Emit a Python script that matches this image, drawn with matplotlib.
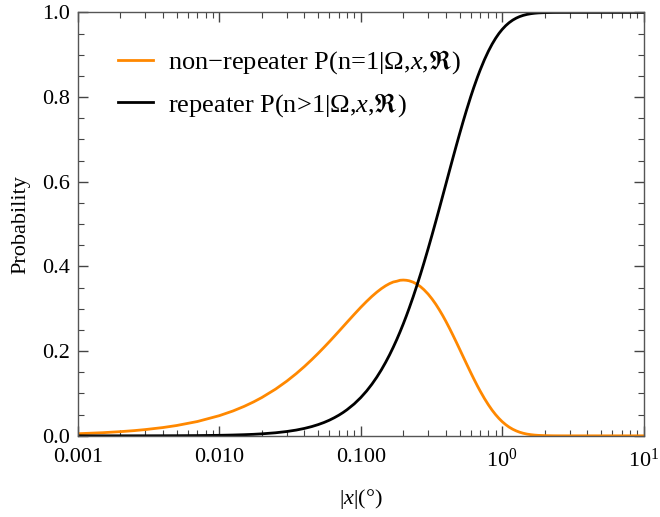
import matplotlib
matplotlib.use('Agg')
import matplotlib.pyplot as plt
from matplotlib.ticker import FixedLocator, LogLocator, MultipleLocator, NullFormatter

plt.rcParams['font.family'] = ['Liberation Serif', 'DejaVu Serif']
plt.rcParams['mathtext.fontset'] = 'custom'
plt.rcParams['mathtext.rm'] = 'Liberation Serif'
plt.rcParams['mathtext.it'] = 'Liberation Serif:italic'
plt.rcParams['mathtext.fallback'] = 'stix'

# |x| in degrees and the two probabilities
x_deg = [0.001, 0.0015, 0.002, 0.0025, 0.003, 0.004, 0.005, 0.007, 0.01, 0.0125,
         0.015, 0.0175, 0.02, 0.025, 0.03, 0.035, 0.04, 0.045, 0.05, 0.055,
         0.06, 0.065, 0.07, 0.075, 0.08, 0.09, 0.1, 0.11, 0.12, 0.13,
         0.14, 0.15, 0.16, 0.17, 0.18, 0.19, 0.2, 0.21, 0.22, 0.235,
         0.25, 0.265, 0.28, 0.3, 0.32, 0.34, 0.36, 0.38, 0.4, 0.425,
         0.45, 0.475, 0.5, 0.53, 0.56, 0.6, 0.63, 0.67, 0.7, 0.75,
         0.8, 0.85, 0.9, 0.95, 1.0, 1.06, 1.12, 1.19, 1.26, 1.33,
         1.41, 1.5, 1.6, 1.7, 1.8, 2.0, 2.3, 2.7, 3.5, 5.0, 10.0]
p_single = [0.0050, 0.0074, 0.0099, 0.0123, 0.0148, 0.0196, 0.0244, 0.0338, 0.0476, 0.0587,
            0.0696, 0.0802, 0.0905, 0.1103, 0.1291, 0.1469, 0.1637, 0.1797, 0.1947, 0.2089,
            0.2222, 0.2348, 0.2466, 0.2577, 0.2681, 0.2869, 0.3033, 0.3173, 0.3293, 0.3393,
            0.3476, 0.3543, 0.3595, 0.3633, 0.3651, 0.3674, 0.3679, 0.3674, 0.3662, 0.3629,
            0.3581, 0.3522, 0.3452, 0.3347, 0.3230, 0.3106, 0.2975, 0.2842, 0.2707, 0.2538,
            0.2371, 0.2209, 0.2052, 0.1872, 0.1703, 0.1494, 0.1350, 0.1175, 0.1057, 0.0882,
            0.0733, 0.0606, 0.0500, 0.0411, 0.0337, 0.0265, 0.0207, 0.0155, 0.0116, 0.0086,
            0.0061, 0.0041, 0.0027, 0.0017, 0.0011, 0.0005, 0.0001, 0.0, 0.0, 0.0, 0.0]
p_repeat = [0.0, 0.00003, 0.00005, 0.00008, 0.0001, 0.0002, 0.0003, 0.0006, 0.0012, 0.0019,
            0.0027, 0.0036, 0.0047, 0.0072, 0.0102, 0.0136, 0.0175, 0.0218, 0.0265, 0.0315,
            0.0369, 0.0427, 0.0487, 0.0550, 0.0616, 0.0754, 0.0902, 0.1057, 0.1219, 0.1386,
            0.1558, 0.1734, 0.1912, 0.2093, 0.2275, 0.2459, 0.2642, 0.2826, 0.3010, 0.3283,
            0.3554, 0.3820, 0.4082, 0.4422, 0.4751, 0.5068, 0.5372, 0.5663, 0.5940, 0.6268,
            0.6575, 0.6861, 0.7127, 0.7421, 0.7689, 0.8009, 0.8222, 0.8474, 0.8641, 0.8883,
            0.9084, 0.9251, 0.9389, 0.9503, 0.9596, 0.9686, 0.9756, 0.9819, 0.9866, 0.9901,
            0.9930, 0.9953, 0.9970, 0.9981, 0.9988, 0.9995, 0.9999, 1.0, 1.0, 1.0, 1.0]
xtick_vals = [0.001, 0.01, 0.1, 1, 10]
xtick_labels = ['0.001', '0.010', '0.100', '$10^0$', '$10^1$']
ytick_vals = [0, 0.2, 0.4, 0.6, 0.8, 1.0]
ytick_labels = ['0.0', '0.2', '0.4', '0.6', '0.8', '1.0']

fig = plt.figure(figsize=(6.6, 5.17), dpi=100)
ax = fig.add_axes([0.118, 0.157, 0.857, 0.819])

ax.plot(x_deg, p_single, color='#ff8800', lw=2.0,
        label=r'non$-$repeater P(n=1|$\Omega$,$x$,$\Re$)')
ax.plot(x_deg, p_repeat, color='black', lw=2.0,
        label=r'repeater P(n>1|$\Omega$,$x$,$\Re$)')

ax.set_xscale('log')
ax.set_xlim(0.001, 10)
ax.set_ylim(0, 1)
ax.xaxis.set_major_locator(FixedLocator(xtick_vals))
ax.set_xticklabels(xtick_labels)
ax.xaxis.set_minor_locator(LogLocator(base=10, subs=range(2, 10), numticks=20))
ax.xaxis.set_minor_formatter(NullFormatter())
ax.set_yticks(ytick_vals)
ax.set_yticklabels(ytick_labels)
ax.yaxis.set_minor_locator(MultipleLocator(0.05))

ax.tick_params(which='both', direction='in', top=True, right=True, colors='#444444',
               labelcolor='black', labelsize=16)
ax.tick_params(which='major', length=7, width=1)
ax.tick_params(which='minor', length=4, width=0.8)
ax.tick_params(axis='x', which='major', pad=9)
ax.tick_params(axis='y', which='major', pad=6)
for s in ax.spines.values():
    s.set_color('#555555')
    s.set_linewidth(1.0)

ax.set_xlabel('|$x$|(°)', fontsize=16, labelpad=11)
ax.set_ylabel('Probability', fontsize=16, labelpad=8)

ax.legend(loc='upper left', bbox_to_anchor=(0.052, 0.94), frameon=False, fontsize=19,
          borderaxespad=0, handlelength=1.35, handletextpad=0.55, labelspacing=0.55)

fig.savefig('out.png', dpi=100)
